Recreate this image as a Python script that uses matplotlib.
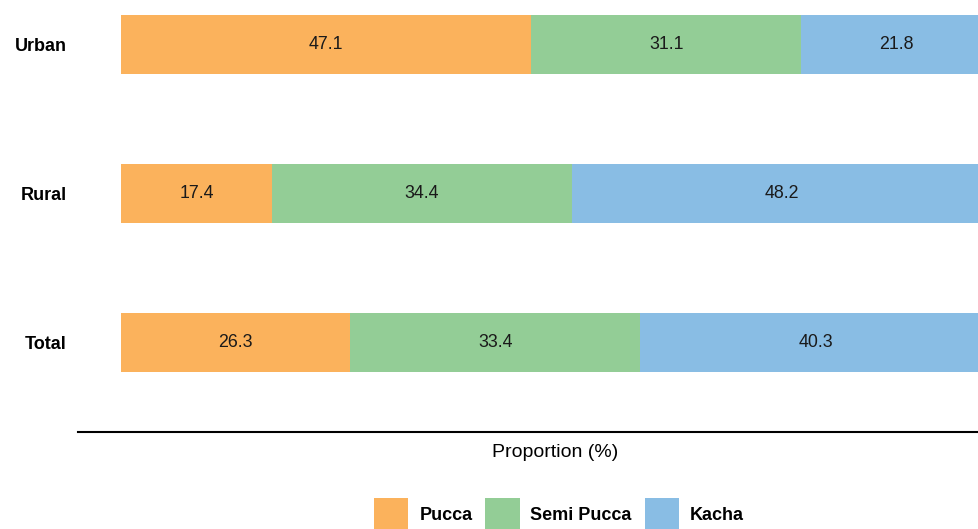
import matplotlib
matplotlib.use("Agg")
import matplotlib.pyplot as plt
from matplotlib.patches import Patch

plt.rcParams['font.family'] = ['Liberation Sans', 'DejaVu Sans']

# data
areas = ['Total', 'Rural', 'Urban']
house_types = ['Pucca', 'Semi Pucca', 'Kacha']
pucca = [26.3, 17.4, 47.1]
semi_pucca = [33.4, 34.4, 31.1]
kacha = [40.3, 48.2, 21.8]
colors = ['#FBB25C', '#93CD96', '#89BDE4']

fig = plt.figure(figsize=(9.79, 5.29), dpi=100)
ax = fig.add_axes([78 / 979, (529 - 432) / 529, 1 - 78 / 979, 432 / 529])

ypos = list(range(len(areas)))
left = [0.0] * len(areas)
for series, col in zip([pucca, semi_pucca, kacha], colors):
    bars = ax.barh(ypos, series, left=left, height=0.4, color=col, edgecolor='none')
    for y, l, v in zip(ypos, left, series):
        ax.text(l + v / 2, y, f'{v:.1f}', ha='center', va='center',
                fontsize=12.8, color='#1a1a1a')
    left = [a + b for a, b in zip(left, series)]

# the reference is cropped on the right, so the axis stops short of 100
ax.set_xlim(-4.94, 98.6)
ax.set_ylim(-0.6, 2.3)
ax.set_yticks(ypos)
ax.set_yticklabels(areas, fontsize=13, fontweight='bold')
ax.tick_params(axis='y', length=0, pad=8)
ax.set_xticks([])
for s in ['top', 'right', 'left']:
    ax.spines[s].set_visible(False)
ax.spines['bottom'].set_linewidth(1.5)
ax.set_xlabel('Proportion (%)', fontsize=14, labelpad=8.5, x=(555 - 78) / (979 - 78))

handles = [Patch(facecolor=c, edgecolor='none', label=t) for c, t in zip(colors, house_types)]
fig.legend(handles=handles, loc='center', bbox_to_anchor=(559 / 979, 14 / 529),
           ncol=3, frameon=False, prop={'size': 13, 'weight': 'bold'},
           handlelength=1.89, handleheight=2.53, handletextpad=0.6, columnspacing=0.72)

fig.savefig('out.png', dpi=100)
